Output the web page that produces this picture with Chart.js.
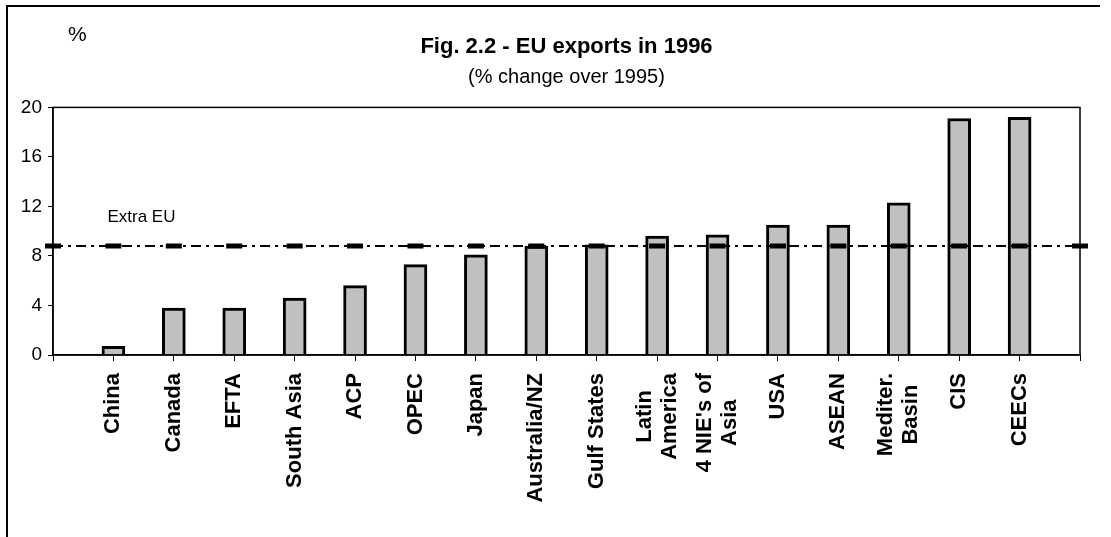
<!DOCTYPE html>
<html>
<head>
<meta charset="utf-8">
<script src="https://cdn.jsdelivr.net/npm/chart.js@4"></script>
<style>
  html, body { margin: 0; padding: 0; background: #fff; }
  #wrap { width: 1111px; height: 537px; }
</style>
</head>
<body>
<div id="wrap"><canvas id="exports"></canvas></div>
<script>
// Fig. 2.2 - EU exports in 1996, % change over 1995
// empty slots at both ends: the Extra EU line runs from axis to axis
var regions = ['', 'China', 'Canada', 'EFTA', 'South Asia', 'ACP', 'OPEC', 'Japan', 'Australia/NZ',
    'Gulf States', ['Latin', 'America'], ['4 NIE\'s of', 'Asia'], 'USA', 'ASEAN',
    ['Mediter.', 'Basin'], 'CIS', 'CEECs', ''];
var change = [null, 0.7, 3.8, 3.8, 4.6, 5.6, 7.3, 8.1, 8.8, 8.9, 9.6, 9.7, 10.5, 10.5, 12.3, 19.1, 19.2, null];
var extraEU = [8.8, 8.8, 8.8, 8.8, 8.8, 8.8, 8.8, 8.8, 8.8, 8.8, 8.8, 8.8, 8.8, 8.8, 8.8, 8.8, 8.8, 8.8];
var yTicks = [0, 4, 8, 12, 16, 20];

var font = '"Liberation Sans", Arial, sans-serif';

// frame, plot box, the loose texts and the upright category labels
var extras = {
    id: 'extras',
    afterDraw: function (chart) {
        var ctx = chart.ctx;
        var a = chart.chartArea;
        var x = chart.scales.x, y = chart.scales.y;
        ctx.save();
        ctx.strokeStyle = '#000';
        ctx.lineWidth = 2;
        ctx.beginPath();
        ctx.moveTo(7, 537);
        ctx.lineTo(7, 6);
        ctx.lineTo(1100, 6);
        ctx.stroke();

        ctx.lineWidth = 1.5;
        ctx.strokeRect(a.left, a.top, a.right - a.left, a.bottom - a.top);

        ctx.fillStyle = '#000';
        ctx.textBaseline = 'middle';
        ctx.textAlign = 'left';
        ctx.font = '21px ' + font;
        ctx.fillText('%', a.left + 15, 35);

        ctx.font = '17px ' + font;
        ctx.fillText('Extra EU', x.getPixelForValue(1) - 6, y.getPixelForValue(11.1));

        // category labels, read bottom to top; two-line ones centred on each other
        ctx.font = 'bold 22px ' + font;
        var top = a.bottom + 18, lh = 25;
        regions.forEach(function (lab, i) {
            if (!lab) return;
            var px = x.getPixelForValue(i);
            var lines = Array.isArray(lab) ? lab : [lab];
            ctx.save();
            ctx.translate(px, top);
            ctx.rotate(-Math.PI / 2);
            if (lines.length === 1) {
                ctx.textAlign = 'right';
                ctx.fillText(lines[0], 0, 0);
            } else {
                var w = Math.max.apply(null, lines.map(function (s) { return ctx.measureText(s).width; }));
                ctx.textAlign = 'center';
                lines.forEach(function (s, k) {
                    ctx.fillText(s, -w / 2, (k - (lines.length - 1) / 2) * lh);
                });
            }
            ctx.restore();
        });
        ctx.restore();
    }
};

var ctx = document.getElementById('exports').getContext('2d');
var chart = new Chart(ctx, {
    type: 'bar',
    data: {
        labels: regions,
        datasets: [{
            type: 'line',
            label: 'Extra EU',
            data: extraEU,
            order: 0,
            borderColor: '#000',
            borderWidth: 2,
            borderDash: [10, 5, 3, 5],
            pointStyle: 'line',
            pointRadius: 8,
            pointBorderWidth: 5,
            pointBorderColor: '#000',
            fill: false
        }, {
            label: '% change over 1995',
            data: change,
            order: 1,
            backgroundColor: '#c0c0c0',
            borderColor: '#000',
            borderWidth: 3,
            barThickness: 23
        }]
    },
    options: {
        responsive: true,
        maintainAspectRatio: false,
        animation: false,
        layout: { padding: { left: 0, right: 31, top: 0, bottom: 0 } },
        plugins: {
            legend: { display: false },
            tooltip: { enabled: false },
            title: {
                display: true,
                fullSize: false,
                text: 'Fig. 2.2 - EU exports in 1996',
                color: '#000',
                font: { family: font, size: 22, weight: 'bold', lineHeight: 1.2 },
                padding: { top: 34, bottom: 4 }
            },
            subtitle: {
                display: true,
                fullSize: false,
                text: '(% change over 1995)',
                color: '#000',
                font: { family: font, size: 20, lineHeight: 1.2 },
                padding: { top: 1, bottom: 18 }
            }
        },
        scales: {
            x: {
                offset: false,
                grid: { display: true, offset: false, drawOnChartArea: false, drawTicks: true, tickLength: 6, color: '#000' },
                border: { display: true, color: '#000', width: 1.5 },
                ticks: { display: false, autoSkip: false },
                afterFit: function (scale) { scale.height = 182; }
            },
            y: {
                min: 0,
                max: 20,
                afterBuildTicks: function (scale) {
                    scale.ticks = yTicks.map(function (v) { return { value: v }; });
                },
                grid: { display: true, drawOnChartArea: false, drawTicks: true, tickLength: 5, color: '#000' },
                border: { display: true, color: '#000', width: 1.5 },
                ticks: {
                    padding: 6,
                    color: '#000',
                    font: { family: font, size: 19 }
                },
                afterFit: function (scale) { scale.width = 53; }
            }
        }
    },
    plugins: [extras]
});
</script>
</body>
</html>
